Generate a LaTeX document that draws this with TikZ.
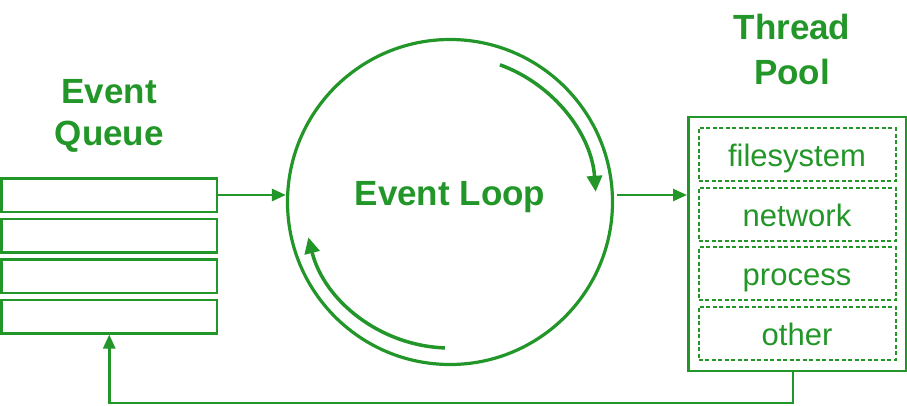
\documentclass[tikz,border=0pt]{standalone}
\usepackage{fontspec}
\setmainfont{Liberation Sans}
\usetikzlibrary{arrows.meta,positioning}
\definecolor{evgreen}{RGB}{34,150,40}

\begin{document}
\begin{tikzpicture}[
      x=1pt,y=1pt,
      every node/.style={text=evgreen},
      qbox/.style={rectangle,draw=evgreen,line width=2.5pt,minimum width=215.5pt,minimum height=33.5pt,inner sep=0pt},
      tbox/.style={rectangle,draw=evgreen,line width=2pt,dash pattern=on 4pt off 2.5pt,minimum width=197pt,minimum height=53pt,inner sep=0pt,font=\fontsize{31}{36}\selectfont,text height=24pt,text depth=0pt},
      bigtxt/.style={align=center,inner sep=0pt,font=\fontsize{35}{42}\selectfont\bfseries},
      arrow/.style={-{Triangle[length=14pt,width=12pt]},draw=evgreen,line width=2.6pt},
      spin/.style={-{Triangle[length=16pt,width=15pt]},draw=evgreen,line width=3.5pt}
    ]
    \useasboundingbox (0,0) rectangle (907,405);
    % event queue
    \node[qbox] (q1) at (109.25,210) {};
    \node[qbox,below=4.5pt of q1] (q2) {};
    \node[qbox,below=4.5pt of q2] (q3) {};
    \node[qbox,below=4.5pt of q3] (q4) {};
    \node[bigtxt,above=24pt of q1] (qtitle) {Event\\Queue};
    % event loop
    \node[circle,draw=evgreen,line width=3.2pt,minimum size=325pt,inner sep=0pt] (loop) at (450,203) {};
    \node[bigtxt,anchor=base] (looptxt) at ([yshift=-3pt]loop.center) {Event Loop};
    \draw[spin] ([shift={(70:146)}]loop.center) arc[start angle=70,end angle=4,radius=146];
    \draw[spin] ([shift={(268:146)}]loop.center) arc[start angle=268,end angle=194,radius=146];
    % thread pool
    \node[rectangle,draw=evgreen,line width=2.5pt,minimum width=217.5pt,minimum height=253.5pt,inner sep=0pt] (pool) at (797,161) {};
    \node[tbox] (fs) at (797,250.5) {filesystem};
    \node[tbox,below=4.5pt of fs] (net) {network};
    \node[tbox,below=4.5pt of net] (proc) {process};
    \node[tbox,below=4.5pt of proc] (other) {other};
    \node[bigtxt,above=31pt of pool,xshift=-5pt,font=\fontsize{35}{45}\selectfont\bfseries] (ptitle) {Thread\\Pool};
    % connectors
    \draw[arrow] (q1.east) -- (q1.east -| loop.west);
    \draw[arrow] ([xshift=3pt]loop.east |- q1.east) -- (q1.east -| pool.west);
    \draw[arrow] ([xshift=-4pt]pool.south) -- ++(0,-31) -| (q4.south);
  \end{tikzpicture}
\end{document}
